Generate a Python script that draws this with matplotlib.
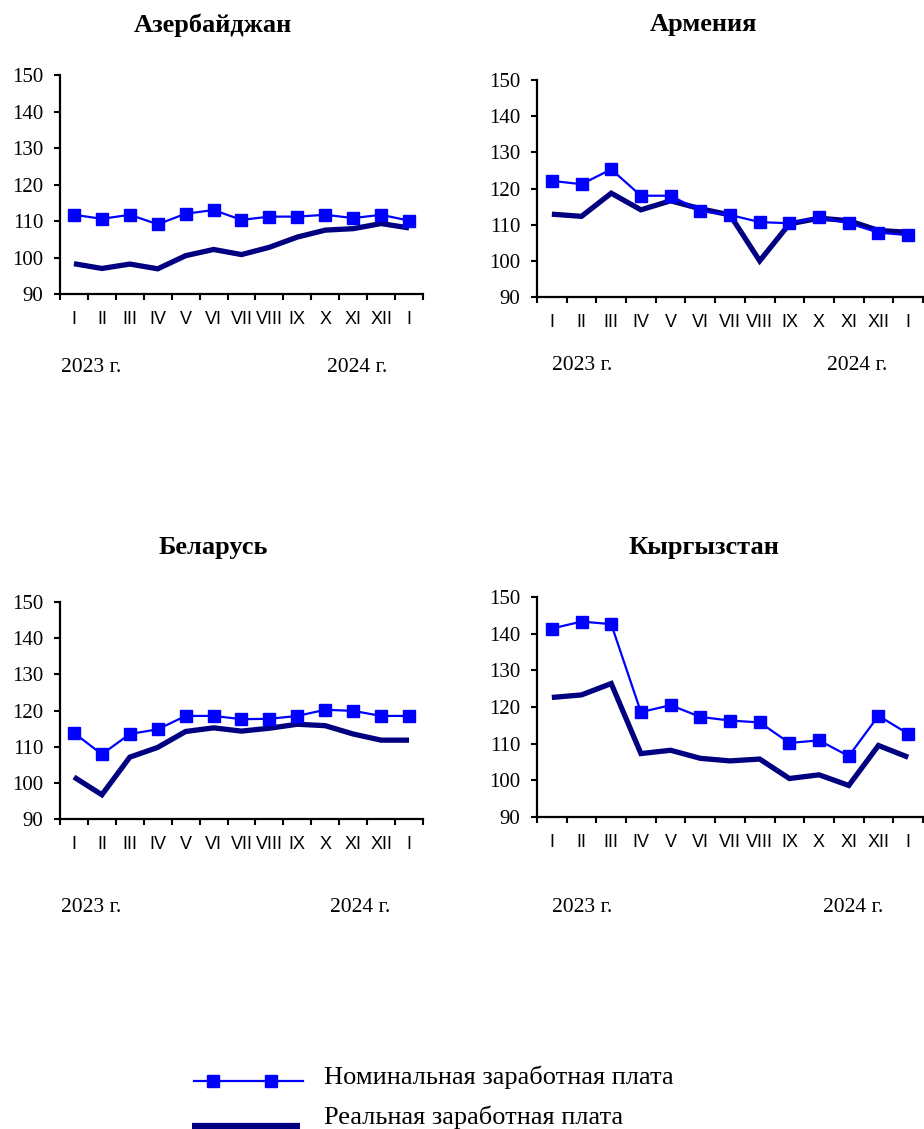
import matplotlib.pyplot as plt
from matplotlib.lines import Line2D

W, H = 924, 1129

months = ['I', 'II', 'III', 'IV', 'V', 'VI', 'VII', 'VIII', 'IX', 'X', 'XI', 'XII', 'I']
years = ['2023 г.', '2024 г.']
countries = ['Азербайджан', 'Армения', 'Беларусь', 'Кыргызстан']
series_names = ['Номинальная заработная плата', 'Реальная заработная плата']

# nominal / real wages, % to same month of previous year
nom_az = [111.7, 110.6, 111.7, 109.1, 112.0, 113.0, 110.3, 111.2, 111.2, 111.7, 110.8, 111.7, 110.1]
real_az = [98.3, 97.0, 98.2, 96.9, 100.5, 102.2, 100.8, 102.8, 105.6, 107.5, 107.9, 109.3, 108.1]

nom_am = [122.1, 121.2, 125.3, 118.0, 118.0, 113.8, 112.7, 110.7, 110.4, 112.0, 110.4, 107.8, 107.1]
real_am = [112.9, 112.3, 118.7, 114.1, 116.6, 114.4, 112.7, 100.0, 110.2, 111.8, 111.1, 108.4, 107.9]

nom_by = [113.8, 107.9, 113.5, 114.8, 118.5, 118.5, 117.6, 117.7, 118.5, 120.2, 119.9, 118.5, 118.5]
real_by = [101.6, 96.7, 107.1, 109.8, 114.2, 115.2, 114.3, 115.1, 116.2, 115.8, 113.5, 111.8, 111.8]

nom_kg = [141.4, 143.3, 142.6, 118.6, 120.5, 117.3, 116.3, 115.8, 110.2, 110.9, 106.6, 117.6, 112.7]
real_kg = [122.6, 123.3, 126.4, 107.3, 108.2, 106.0, 105.3, 105.8, 100.5, 101.5, 98.6, 109.5, 106.3]

nominal = [nom_az, nom_am, nom_by, nom_kg]
real = [real_az, real_am, real_by, real_kg]

SERIF = 'Liberation Serif'
SANS = 'Liberation Sans'
BLUE = '#0000ff'
NAVY = '#000080'

# layout in pixels: axes left, right, top (150), bottom (90)
boxes = [(60, 423, 75, 294), (537, 923, 80, 297), (60, 423, 602, 819), (537, 923, 597, 817)]
title_pos = [(213, 25), (703, 25), (213, 548), (704, 548)]
year_pos = [((61, 367), (327, 367)), ((552, 366), (827, 366)),
            ((61, 908), (330, 908)), ((552, 908), (823, 908))]

fig = plt.figure(figsize=(W / 100, H / 100), dpi=100)

x = list(range(len(months)))
for i in range(4):
    l, r, t, b = boxes[i]
    ax = fig.add_axes([l / W, 1 - b / H, (r - l) / W, (b - t) / H])
    ax.plot(x, nominal[i], color=BLUE, lw=1.6, marker='s', ms=9,
            markeredgecolor=BLUE, zorder=3)
    ax.plot(x, real[i], color=NAVY, lw=3.8, solid_capstyle='butt',
            solid_joinstyle='miter', zorder=2)
    ax.set_xlim(-0.5, len(months) - 0.5)
    ax.set_ylim(90, 150)
    ax.set_yticks(range(90, 151, 10))
    ax.set_yticklabels([str(v) for v in range(90, 151, 10)], fontfamily=SERIF, fontsize=15)
    ax.set_xticks([k - 0.5 for k in range(len(months) + 1)])
    ax.set_xticklabels([])
    ax.set_xticks(x, minor=True)
    ax.set_xticklabels(months, minor=True, fontfamily=SANS, fontsize=13)
    ax.tick_params(axis='x', which='minor', length=0, pad=12)
    ax.tick_params(axis='both', which='major', length=4, width=1.5, direction='out')
    ax.tick_params(axis='y', pad=8)
    for s in ['top', 'right']:
        ax.spines[s].set_visible(False)
    for s in ['left', 'bottom']:
        ax.spines[s].set_linewidth(1.6)
    ax.patch.set_alpha(0)

    tx, ty = title_pos[i]
    fig.text(tx / W, 1 - ty / H, countries[i], ha='center', va='center',
             fontfamily=SERIF, fontsize=19, fontweight='bold')
    for (yx, yy), label in zip(year_pos[i], years):
        fig.text(yx / W, 1 - yy / H, label, ha='left', va='center',
                 fontfamily=SERIF, fontsize=15.5)

# legend keys drawn by hand to match the original placement
fig.add_artist(Line2D([194 / W, 303 / W], [1 - 1081 / H] * 2, color=BLUE, lw=1.6))
fig.add_artist(Line2D([213 / W, 271 / W], [1 - 1081 / H] * 2, ls='none', marker='s',
                      ms=9, color=BLUE))
fig.add_artist(Line2D([192 / W, 300 / W], [1 - 1126 / H] * 2, color=NAVY, lw=4.5,
                      solid_capstyle='butt'))
fig.text(324 / W, 1 - 1077 / H, series_names[0], ha='left', va='center',
         fontfamily=SERIF, fontsize=19)
fig.text(324 / W, 1 - 1117 / H, series_names[1], ha='left', va='center',
         fontfamily=SERIF, fontsize=19)

fig.savefig('out.png', dpi=100)
